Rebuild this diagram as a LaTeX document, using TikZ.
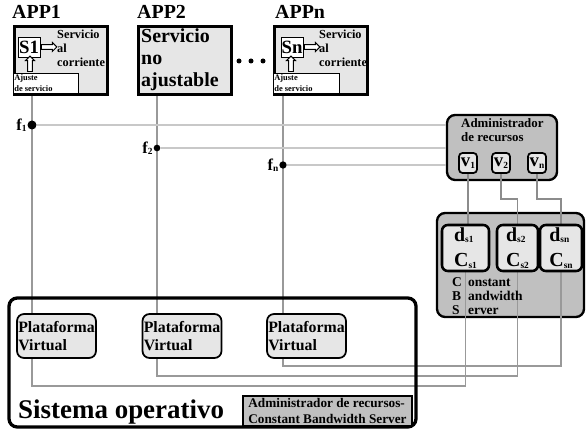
\documentclass[tikz,border=0pt]{standalone}
\usepackage{fontspec}
\setmainfont{Liberation Serif}
\usetikzlibrary{arrows, positioning, shapes, calc, backgrounds}
\definecolor{boxgray}{HTML}{E6E6E6}
\definecolor{mgrgray}{HTML}{C0C0C0}
\definecolor{linegray}{HTML}{999999}
\definecolor{flinegray}{HTML}{C8C8C8}
\definecolor{vlinegray}{HTML}{8C8C8C}
\newcommand{\sbs}[1]{\raisebox{-0.2ex}{\fontsize{8}{8}\selectfont #1}}

\begin{document}
\begin{tikzpicture}[x=0.03cm, y=-0.03cm]
% estilos
\tikzstyle{title} = [font=\fontsize{17}{19}\selectfont\bfseries, inner sep=0pt, anchor=base west]
\tikzstyle{appbox} = [rectangle, draw, line width=2.4pt, fill=boxgray, minimum width=2.79cm, minimum height=2.04cm, anchor=north west, inner sep=0pt]
\tikzstyle{subbox} = [rectangle, draw, line width=0.7pt, fill=white, minimum width=0.66cm, minimum height=0.6cm, inner sep=0pt, font=\fontsize{16}{16}\selectfont\bfseries]
\tikzstyle{ajbox} = [rectangle, draw, line width=1pt, fill=white, minimum height=0.6cm, anchor=north west, inner sep=0pt]
\tikzstyle{hollow} = [single arrow, draw, fill=white, line width=0.8pt, inner sep=1.6pt, single arrow head extend=1.8pt, minimum height=0.46cm]
\tikzstyle{note} = [font=\fontsize{10.5}{12}\selectfont\bfseries, align=left, anchor=north west, inner sep=0pt]
\tikzstyle{tinynote} = [font=\fontsize{7.2}{9.5}\selectfont\bfseries, align=left, anchor=north west, inner sep=0.5pt]
\tikzstyle{fdot} = [circle, fill=black, inner sep=0pt, minimum size=0.22cm]
\tikzstyle{flabel} = [font=\fontsize{14}{14}\selectfont\bfseries, inner sep=0.5pt]
\tikzstyle{mgrbox} = [rectangle, rounded corners=7pt, draw, line width=2pt, fill=mgrgray, inner sep=0pt]
\tikzstyle{vbox} = [rectangle, rounded corners=3pt, draw, line width=1.5pt, fill=boxgray, minimum width=0.54cm, minimum height=0.6cm, inner sep=0pt, font=\fontsize{16}{16}\selectfont\bfseries]
\tikzstyle{dbox} = [rectangle, rounded corners=5pt, draw, line width=2.2pt, fill=boxgray, minimum height=1.38cm, inner sep=0pt, align=left, font=\fontsize{17}{22}\selectfont\bfseries]
\tikzstyle{pvbox} = [rectangle, rounded corners=6pt, draw, line width=1.5pt, fill=boxgray, minimum width=2.37cm, minimum height=1.32cm, inner sep=0pt, align=left, font=\fontsize{13.5}{15.5}\selectfont\bfseries]
\tikzstyle{osbox} = [rectangle, rounded corners=7pt, draw, line width=2.8pt, inner sep=0pt]
\tikzstyle{appline} = [draw=linegray, line width=1pt]
\tikzstyle{fline} = [draw=flinegray, line width=1.3pt]
\tikzstyle{vline} = [draw=vlinegray, line width=1.6pt]
\tikzstyle{cline} = [draw=linegray, line width=1.2pt]

\useasboundingbox (0,0) rectangle (586,432);

% aplicaciones
\node[title] (t1) at (12,19) {APP1};
\node[appbox] (app1) at (13,25) {};
\node[subbox] (s1) at (29,47) {S1};
\node[hollow] (a1) at (48,47) {};
\node[note] (n1) at (57,30) {Servicio\\al\\corriente};
\node[ajbox, minimum width=1.95cm] (aj1) at (13,73) {};
\node[tinynote] (j1) at (13.5,73.5) {Ajuste\\de servicio};
\node[hollow, shape border rotate=90] (b1) at (30,65) {};

\node[title] (t2) at (137,19) {APP2};
\node[appbox] (app2) at (137,25) {};
\node[font=\fontsize{17}{19}\selectfont\bfseries, align=left, anchor=north west, inner sep=0pt] (n2) at (141,28) {Servicio\\no\\ajustable};

\foreach \i/\x in {1/239, 2/251, 3/263}
  \node[circle, fill=black, inner sep=0pt, minimum size=0.15cm] (dd\i) at (\x,61) {};

\node[title] (t3) at (275,19) {APPn};
\node[appbox] (app3) at (273,25) {};
\node[subbox] (s3) at (292,47) {Sn};
\node[hollow] (a3) at (311,47) {};
\node[note] (n3) at (319,30) {Servicio\\al\\corriente};
\node[ajbox, minimum width=1.98cm] (aj3) at (273,73) {};
\node[tinynote] (j3) at (273.5,73.5) {Ajuste\\de servicio};
\node[hollow, shape border rotate=90] (b3) at (291,65) {};

% puntos f
\node[fdot, minimum size=0.27cm] (f1) at (32,125) {};
\node[fdot, minimum size=0.2cm] (f2) at (157,148) {};
\node[fdot] (fn) at (283,165) {};
\node[flabel, left=0pt of f1] (lf1) {f\sbs{1}};
\node[flabel, left=0pt of f2] (lf2) {f\sbs{2}};
\node[flabel, left=0pt of fn] (lfn) {f\sbs{n}};

% administrador y servidor
\node[font=\fontsize{11}{12.5}\selectfont\bfseries, align=left, anchor=north west, inner sep=0pt] (tadm) at (461,118) {Administrador\\de recursos};
\node[vbox] (v1) at (468,163) {v\sbs{1}};
\node[vbox] (v2) at (501,163) {v\sbs{2}};
\node[vbox] (vn) at (537,163) {v\sbs{n}};

\node[dbox, minimum width=1.41cm] (ds1) at (465.5,248) {d\sbs{s1}\\C\sbs{s1}};
\node[dbox, minimum width=1.23cm] (ds2) at (517.5,248) {d\sbs{s2}\\C\sbs{s2}};
\node[dbox, minimum width=1.26cm] (dsn) at (561,248) {d\sbs{sn}\\C\sbs{sn}};
\node[font=\fontsize{11.5}{12}\selectfont\bfseries, align=left, anchor=north west, inner sep=0pt] (tcbs) at (452,277)
  {\makebox[13.5pt][l]{C}onstant\\\makebox[13.5pt][l]{B}andwidth\\\makebox[13.5pt][l]{S}erver};

% sistema operativo
\node[osbox, minimum width=12.21cm, minimum height=3.87cm] (os) at (212.5,362.5) {};
\node[pvbox] (pv1) at (56.5,336) {Plataforma\\Virtual};
\node[pvbox] (pv2) at (182,336) {Plataforma\\Virtual};
\node[pvbox] (pv3) at (306.5,336) {Plataforma\\Virtual};
\node[font=\fontsize{23}{23}\selectfont\bfseries, anchor=base west, inner sep=0pt] (tos) at (18,418) {Sistema operativo};
\node[rectangle, draw, line width=1.5pt, fill=mgrgray, minimum width=5.07cm, minimum height=0.9cm, inner sep=0pt, align=left, font=\fontsize{11.3}{13}\selectfont\bfseries] (cbsos) at (327.5,411) {Administrador de recursos-\\Constant Bandwidth Server};

\begin{pgfonlayer}{background}
\node[mgrbox, minimum width=3.3cm, minimum height=1.95cm] (adm) at (502,147.5) {};
\node[mgrbox, minimum width=4.41cm, minimum height=3.12cm] (cbs) at (510.5,265) {};

% conexiones
\draw[appline] (f1 |- aj1.south) -- (f1 |- pv1.north);
\draw[appline] (f2 |- app2.south) -- (f2 |- pv2.north);
\draw[appline] (fn |- aj3.south) -- (fn |- pv3.north);
\draw[fline] (f1) -- (f1 -| adm.west);
\draw[fline] (f2) -- (f2 -| adm.west);
\draw[fline] (fn) -- (fn -| adm.west);

\draw[vline] (v1.south) -- (v1.south |- ds1.north);
\draw[vline] (v2.south) -- ++(0,25) -| (ds2.north);
\draw[vline] (vn.south) -- ++(0,25) -| (dsn.north);

\coordinate (r1) at (0,386);
\coordinate (r2) at (0,376);
\coordinate (r3) at (0,366);
\draw[cline] (ds1.south) |- (f1 |- r1) -- (f1 |- pv1.south);
\draw[cline] (ds2.south) |- (f2 |- r2) -- (f2 |- pv2.south);
\draw[cline] (dsn.south) |- (fn |- r3) -- (fn |- pv3.south);
\end{pgfonlayer}
\end{tikzpicture}
\end{document}
